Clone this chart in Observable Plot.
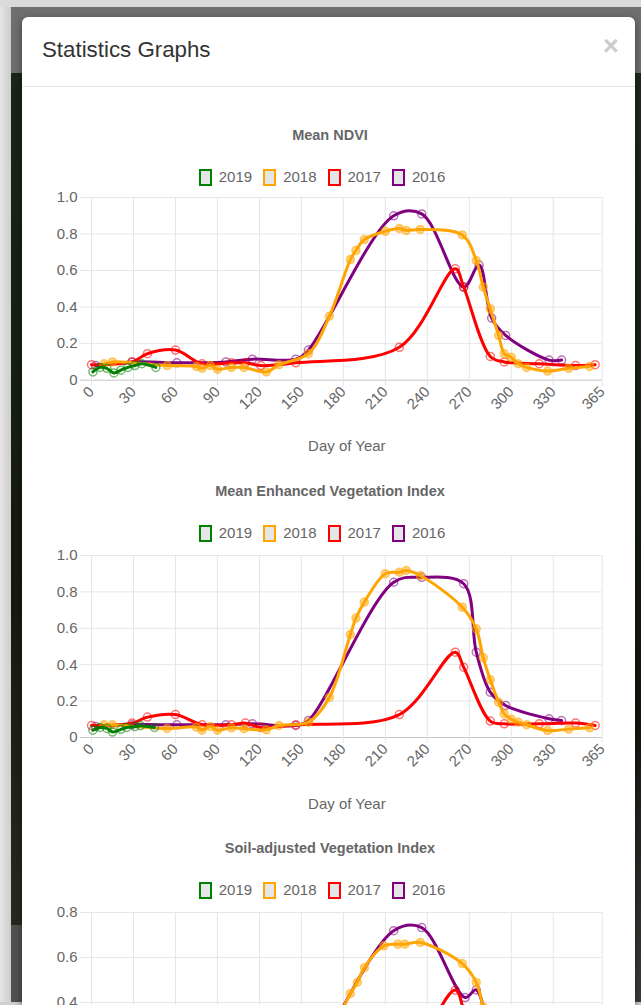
<!DOCTYPE html>
<html><head><meta charset="utf-8">
<script src="https://cdn.jsdelivr.net/npm/d3@7"></script>
<script src="https://cdn.jsdelivr.net/npm/@observablehq/plot@0.6"></script>
<style>
html,body{margin:0;padding:0;width:641px;height:1005px;overflow:hidden;}
body{position:relative;background:#1b2119;font-family:"Liberation Sans",Arial,sans-serif;}
.abs{position:absolute;}
#frameL{left:0;top:0;width:11px;height:1005px;background:linear-gradient(to right,#e6e6e6,#cdcdcd);}
#frameT{left:0;top:0;width:641px;height:7px;background:#dadada;}
#band{left:11px;top:7px;width:630px;height:66px;background:#6f6f6f;}
#stripL{left:11px;top:73px;width:11px;height:852px;background:linear-gradient(to bottom,#1c2519,#141a12 60%,#262b20);}
#stripR{left:635px;top:73px;width:6px;height:929px;background:linear-gradient(to bottom,#1d2a1b,#121810 70%,#3a3f38);}
#bottomL{left:11px;top:925px;width:11px;height:80px;background:#4f544e;}
#frameB{left:0;top:1002px;width:641px;height:3px;background:#cfcfcf;}
#modal{left:22px;top:17px;width:613px;height:1100px;background:#fff;border-radius:6px;box-shadow:0 3px 9px rgba(0,0,0,.45);}
#mtitle{left:42px;top:36px;font-size:22.3px;color:#333;line-height:28px;white-space:nowrap;}
#mclose{left:603px;top:31px;font-size:27px;font-weight:bold;color:#cccccc;line-height:30px;}
#divider{left:22px;top:86px;width:613px;height:1px;background:#e5e5e5;}
.ctitle{left:0;width:660px;text-align:center;font-weight:bold;font-size:14.5px;color:#666;line-height:18px;white-space:nowrap;}
.legend{left:0;width:644px;display:flex;justify-content:center;align-items:center;height:20px;}
.item{display:flex;align-items:center;margin:0 5.5px;}
.box{width:9px;height:13px;border:2.5px solid;background:#e6e6e6;margin-right:7px;}
.ltxt{font-size:15px;color:#666;line-height:18px;}
.chart{left:0;}
</style>
</head><body>
<div id="frameL" class="abs"></div>
<div id="frameT" class="abs"></div>
<div id="band" class="abs"></div>
<div id="stripL" class="abs"></div>
<div id="stripR" class="abs"></div>
<div id="bottomL" class="abs"></div>
<div id="frameB" class="abs"></div>
<div id="modal" class="abs"></div>
<div id="mtitle" class="abs">Statistics Graphs</div>
<div id="mclose" class="abs">×</div>
<div id="divider" class="abs"></div>
<div id="charts"></div>
<script>
// ---- data ----
const years = ["2019", "2018", "2017", "2016"];
const yearColors = ["green", "orange", "red", "purple"];
const xTicks = [0, 30, 60, 90, 120, 150, 180, 210, 240, 270, 300, 330, 365];
const ticksFull = [0, 0.2, 0.4, 0.6, 0.8, 1.0];
const ticksSavi = [0, 0.2, 0.4, 0.6, 0.8];
const chartTitles = ["Mean NDVI", "Mean Enhanced Vegetation Index", "Soil-adjusted Vegetation Index"];
const xLabel = "Day of Year";

// [day of year, value]
const ndvi2019 = [[1,0.045],[6,0.07],[11,0.065],[16,0.04],[21,0.055],[26,0.07],[31,0.08],[36,0.09],[46,0.07]];
const ndvi2018 = [[9,0.09],[15,0.10],[54,0.08],[75,0.075],[79,0.065],[85,0.08],[90,0.06],[100,0.07],[109,0.07],[125,0.045],[134,0.085],[155,0.145],[170,0.35],[185,0.66],[189,0.71],[195,0.77],[210,0.815],[220,0.83],[225,0.82],[235,0.825],[265,0.795],[275,0.655],[280,0.51],[285,0.39],[291,0.245],[295,0.145],[300,0.125],[305,0.09],[311,0.07],[326,0.05],[341,0.065],[356,0.075]];
const ndvi2017 = [[0,0.085],[29,0.10],[40,0.145],[60,0.165],[79,0.09],[100,0.095],[110,0.095],[121,0.08],[146,0.095],[220,0.18],[260,0.61],[266,0.51],[285,0.13],[295,0.10],[320,0.09],[346,0.08],[360,0.085]];
const ndvi2016 = [[3,0.08],[29,0.10],[61,0.095],[96,0.10],[115,0.115],[146,0.115],[155,0.165],[216,0.90],[236,0.91],[266,0.51],[277,0.63],[286,0.34],[296,0.245],[327,0.11],[336,0.11]];

const evi2019 = [[1,0.04],[6,0.055],[11,0.05],[15,0.03],[21,0.045],[25,0.055],[31,0.06],[35,0.065],[45,0.055]];
const evi2018 = [[9,0.07],[15,0.07],[54,0.05],[75,0.057],[79,0.04],[85,0.06],[90,0.04],[100,0.053],[109,0.048],[125,0.042],[134,0.066],[155,0.084],[170,0.22],[185,0.566],[189,0.656],[195,0.744],[210,0.90],[220,0.908],[225,0.918],[235,0.89],[265,0.716],[275,0.597],[280,0.438],[285,0.317],[291,0.194],[295,0.13],[300,0.10],[305,0.084],[311,0.07],[326,0.038],[341,0.046],[356,0.053]];
const evi2017 = [[0,0.066],[29,0.079],[40,0.112],[60,0.126],[79,0.07],[100,0.07],[110,0.079],[121,0.055],[146,0.07],[220,0.126],[260,0.469],[266,0.386],[285,0.09],[295,0.075],[320,0.075],[346,0.079],[360,0.066]];
const evi2016 = [[3,0.06],[29,0.07],[61,0.07],[96,0.07],[115,0.075],[146,0.066],[155,0.093],[216,0.853],[236,0.88],[266,0.845],[275,0.469],[285,0.249],[296,0.176],[327,0.103],[336,0.093]];

const savi2019 = [[1,0.035],[6,0.05],[11,0.045],[15,0.03],[21,0.04],[25,0.05],[31,0.055],[35,0.06],[45,0.05]];
const savi2018 = [[9,0.06],[15,0.065],[54,0.055],[75,0.05],[79,0.045],[85,0.055],[90,0.045],[100,0.05],[109,0.05],[125,0.035],[134,0.06],[155,0.10],[170,0.25],[185,0.44],[190,0.49],[195,0.555],[209,0.652],[219,0.659],[224,0.659],[235,0.667],[265,0.573],[275,0.489],[280,0.38],[285,0.29],[291,0.18],[295,0.11],[300,0.09],[305,0.07],[311,0.055],[326,0.04],[341,0.048],[356,0.052]];
const savi2017 = [[0,0.06],[29,0.07],[40,0.10],[60,0.115],[79,0.065],[100,0.065],[110,0.07],[121,0.058],[146,0.068],[220,0.13],[260,0.455],[266,0.37],[285,0.095],[295,0.075],[320,0.065],[346,0.06],[360,0.062]];
const savi2016 = [[3,0.055],[29,0.07],[61,0.07],[96,0.07],[115,0.08],[146,0.08],[155,0.12],[216,0.719],[236,0.733],[267,0.422],[275,0.456],[286,0.25],[296,0.18],[327,0.08],[336,0.08]];

// ---- layout ----
const layouts = [
  {series: [ndvi2019, ndvi2018, ndvi2017, ndvi2016], ticks: ticksFull, titleY: 126, legendY: 167, gridTop: 197.3, innerH: 182.7, showX: true},
  {series: [evi2019, evi2018, evi2017, evi2016], ticks: ticksFull, titleY: 482, legendY: 523, gridTop: 555, innerH: 182, showX: true},
  // third chart runs past the bottom of the window: its x axis lies below the visible area
  {series: [savi2019, savi2018, savi2017, savi2016], ticks: ticksSavi, titleY: 839, legendY: 880, gridTop: 911.7, innerH: 180, showX: false}
];

const root = document.getElementById("charts");
const mT = 10, mB = 80;

layouts.forEach((L, ci) => {
  const t = document.createElement("div");
  t.className = "abs ctitle";
  t.style.top = L.titleY + "px";
  t.textContent = chartTitles[ci];
  root.appendChild(t);

  const lg = document.createElement("div");
  lg.className = "abs legend";
  lg.style.top = L.legendY + "px";
  years.forEach((y, i) => {
    const it = document.createElement("div");
    it.className = "item";
    const b = document.createElement("div");
    b.className = "box";
    b.style.borderColor = yearColors[i];
    const tx = document.createElement("span");
    tx.className = "ltxt";
    tx.textContent = y;
    it.appendChild(b); it.appendChild(tx);
    lg.appendChild(it);
  });
  root.appendChild(lg);

  const yMax = L.ticks[L.ticks.length - 1];
  const marks = [
    Plot.ruleX(xTicks, {x: d => d, y1: 0, y2: yMax, stroke: "#e6e6e6"}),
    Plot.ruleY(L.ticks.filter(d => d > 0), {y: d => d, x1: -8, x2: 365, stroke: "#e6e6e6"}),
    Plot.ruleY([0], {y: d => d, x1: -8, x2: 365, stroke: "#c6c6c6"}),
    Plot.axisY({ticks: L.ticks, tickSize: 0, tickPadding: 14, fill: "#666", label: null, tickFormat: d => d === 0 ? "0" : d.toFixed(1), fontSize: 15})
  ];
  if (L.showX) {
    marks.push(Plot.axisX({ticks: xTicks, tickSize: 6, tickPadding: 3, tickRotate: -45, stroke: "#e6e6e6", fill: "#666", label: null, tickFormat: d => String(d), fontSize: 15}));
    marks.push(Plot.text([xLabel], {text: d => d, frameAnchor: "bottom", dy: 71, fill: "#666", fontSize: 15}));
  } else {
    marks.push(Plot.axisX({ticks: xTicks, tickSize: 6, stroke: "#e6e6e6", text: null, label: null}));
  }
  for (let i = years.length - 1; i >= 0; i--) {
    const data = L.series[i];
    const c = yearColors[i];
    marks.push(Plot.line(data, {x: d => d[0], y: d => d[1], stroke: c, strokeWidth: 3, curve: "catmull-rom"}));
    marks.push(Plot.dot(data, {x: d => d[0], y: d => d[1], r: 4, stroke: c, strokeOpacity: 0.55, strokeWidth: 1.5,
      fill: c === "orange" ? c : "none", fillOpacity: 0.45}));
  }
  const svg = Plot.plot({
    width: 641,
    height: mT + L.innerH + mB,
    marginLeft: 91, marginRight: 39.3, marginTop: mT, marginBottom: mB,
    x: {domain: [0, 365]},
    y: {domain: [0, yMax]},
    style: {fontFamily: "'Liberation Sans', Arial, sans-serif", fontSize: "15px", color: "#666", background: "transparent", overflow: "visible"},
    marks
  });
  const wrap = document.createElement("div");
  wrap.className = "abs chart";
  wrap.style.top = (L.gridTop - mT) + "px";
  wrap.appendChild(svg);
  root.appendChild(wrap);
});
</script>
</body></html>
